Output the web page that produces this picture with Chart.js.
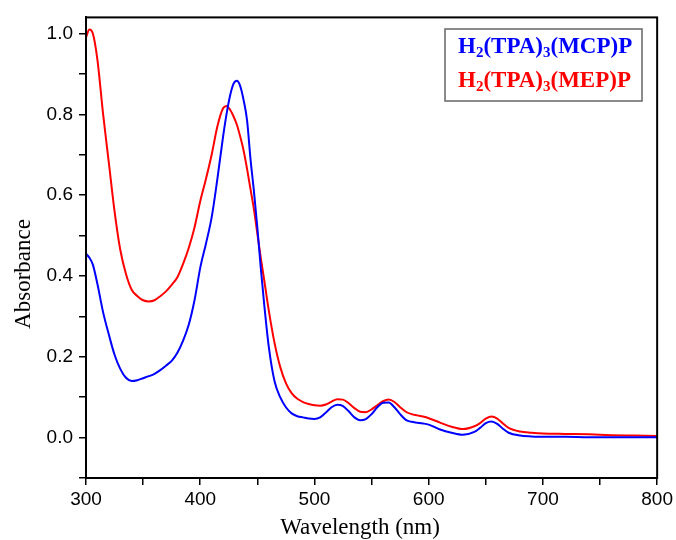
<!DOCTYPE html>
<html>
<head>
<meta charset="utf-8">
<script src="https://cdn.jsdelivr.net/npm/chart.js@4.4.1/dist/chart.umd.min.js"></script>
<style>
html,body{margin:0;padding:0;background:#fff;}
#wrap{width:676px;height:540px;position:relative;}
</style>
</head>
<body>
<div id="wrap"><canvas id="c" width="676" height="540"></canvas></div>
<script>
// Wavelength grid (nm)
const wavelengths = [300,303,306,310,315,320,325,330,335,340,345,350,355,360,365,370,375,380,385,390,395,400,405,410,415,420,423,426,429,432,435,438,441,444,447,450,453,456,460,465,470,475,480,485,490,495,500,505,510,515,520,525,530,535,540,545,550,555,560,565,570,575,580,585,590,595,600,610,620,630,640,645,650,655,660,665,670,680,690,700,720,740,760,780,800];

// H2(TPA)3(MCP)P absorbance (blue)
const mcpValues = [0.455,0.445,0.428,0.38,0.31,0.255,0.205,0.17,0.148,0.14,0.142,0.147,0.152,0.158,0.167,0.178,0.19,0.21,0.24,0.28,0.34,0.42,0.48,0.545,0.64,0.745,0.80,0.845,0.875,0.883,0.87,0.835,0.785,0.69,0.61,0.52,0.42,0.33,0.225,0.14,0.10,0.075,0.06,0.053,0.05,0.047,0.046,0.05,0.062,0.075,0.081,0.078,0.065,0.05,0.043,0.046,0.058,0.075,0.086,0.087,0.075,0.058,0.044,0.039,0.037,0.035,0.032,0.02,0.012,0.007,0.014,0.024,0.036,0.04,0.034,0.022,0.012,0.005,0.003,0.002,0.002,0.001,0.001,0.001,0.001];

// H2(TPA)3(MEP)P absorbance (red)
const mepValues = [0.99,1.01,1.00,0.935,0.80,0.68,0.56,0.465,0.405,0.366,0.35,0.34,0.337,0.34,0.35,0.362,0.378,0.397,0.43,0.47,0.52,0.585,0.64,0.70,0.77,0.815,0.821,0.812,0.796,0.775,0.745,0.71,0.665,0.615,0.565,0.505,0.445,0.39,0.315,0.235,0.175,0.135,0.11,0.096,0.088,0.083,0.08,0.079,0.082,0.089,0.095,0.094,0.085,0.073,0.064,0.063,0.07,0.08,0.09,0.094,0.088,0.075,0.064,0.058,0.055,0.052,0.048,0.037,0.027,0.021,0.028,0.036,0.047,0.052,0.047,0.035,0.024,0.015,0.012,0.01,0.009,0.008,0.006,0.005,0.004];

const seriesNames = ['MCP','MEP'];
const xTitle = 'Wavelength (nm)';
const yTitle = 'Absorbance';

const toPoints = vals => wavelengths.map((w,i)=>({x:w,y:vals[i]}));

const framePlugin = {
  id:'frame',
  afterDraw(chart){
    const ctx = chart.ctx, a = chart.chartArea;
    ctx.save();
    ctx.strokeStyle = '#000';
    ctx.lineWidth = 2;
    ctx.strokeRect(a.left, a.top, a.right-a.left, a.bottom-a.top);
    // axis titles
    ctx.fillStyle = '#000';
    ctx.font = '23px "Liberation Serif", "Times New Roman", serif';
    ctx.textAlign = 'center';
    ctx.textBaseline = 'middle';
    ctx.fillText(xTitle, 360, 528);
    ctx.save();
    ctx.translate(24, 274);
    ctx.rotate(-Math.PI/2);
    ctx.fillText(yTitle, 0, 0);
    ctx.restore();
    // legend box
    const bx=445, by=29, bw=197, bh=72;
    ctx.fillStyle='#fff';
    ctx.fillRect(bx,by,bw,bh);
    ctx.strokeStyle='#666';
    ctx.lineWidth=1.5;
    ctx.strokeRect(bx,by,bw,bh);
    const lines = [
      {color:'#0000ff', y:53, parts:[['H',0],['2',1],['(TPA)',0],['3',1],['(MCP)P',0]]},
      {color:'#ff0000', y:87, parts:[['H',0],['2',1],['(TPA)',0],['3',1],['(MEP)P',0]]}
    ];
    ctx.textAlign='left';
    ctx.textBaseline='alphabetic';
    lines.forEach(l=>{
      let x = 458;
      ctx.fillStyle = l.color;
      l.parts.forEach(([t,sub])=>{
        ctx.font = sub ? 'bold 15px "Liberation Serif", serif' : 'bold 23px "Liberation Serif", serif';
        ctx.fillText(t, x, l.y + (sub?4:0));
        x += ctx.measureText(t).width;
      });
    });
    ctx.restore();
  }
};

new Chart(document.getElementById('c'), {
  type:'line',
  data:{
    datasets:[
      {label:seriesNames[0], data:toPoints(mcpValues), borderColor:'#0000ff', borderWidth:2, pointRadius:0, fill:false, cubicInterpolationMode:'monotone'},
      {label:seriesNames[1], data:toPoints(mepValues), borderColor:'#ff0000', borderWidth:2, pointRadius:0, fill:false, cubicInterpolationMode:'monotone'}
    ]
  },
  options:{
    responsive:false,
    animation:false,
    layout:{padding:{top:14,right:18,left:0,bottom:0}},
    plugins:{legend:{display:false},tooltip:{enabled:false}},
    scales:{
      x:{
        type:'linear', min:300, max:800,
        afterFit(s){ s.height = 62; },
        border:{display:true,color:'#000',width:2},
        grid:{display:true,drawOnChartArea:false,drawTicks:true,tickLength:7,color:'#000',lineWidth:1.5},
        ticks:{stepSize:50, includeBounds:false, padding:3, color:'#000', maxRotation:0, autoSkip:false,
          font:{family:'"Liberation Sans", Arial, sans-serif', size:19},
          callback:v=> (Math.round(v)%100===0 ? String(Math.round(v)) : '')}
      },
      y:{
        type:'linear', min:-0.1, max:1.04,
        afterFit(s){ s.width = 86; },
        border:{display:true,color:'#000',width:2},
        grid:{display:true,drawOnChartArea:false,drawTicks:true,tickLength:7,color:'#000',lineWidth:1.5},
        ticks:{stepSize:0.1, includeBounds:false, padding:6, color:'#000', autoSkip:false,
          font:{family:'"Liberation Sans", Arial, sans-serif', size:19},
          callback:v=>{ const k=Math.round(v*10); return (k>=0 && k%2===0) ? (k/10).toFixed(1) : ''; }}
      }
    }
  },
  plugins:[framePlugin]
});
</script>
</body>
</html>
